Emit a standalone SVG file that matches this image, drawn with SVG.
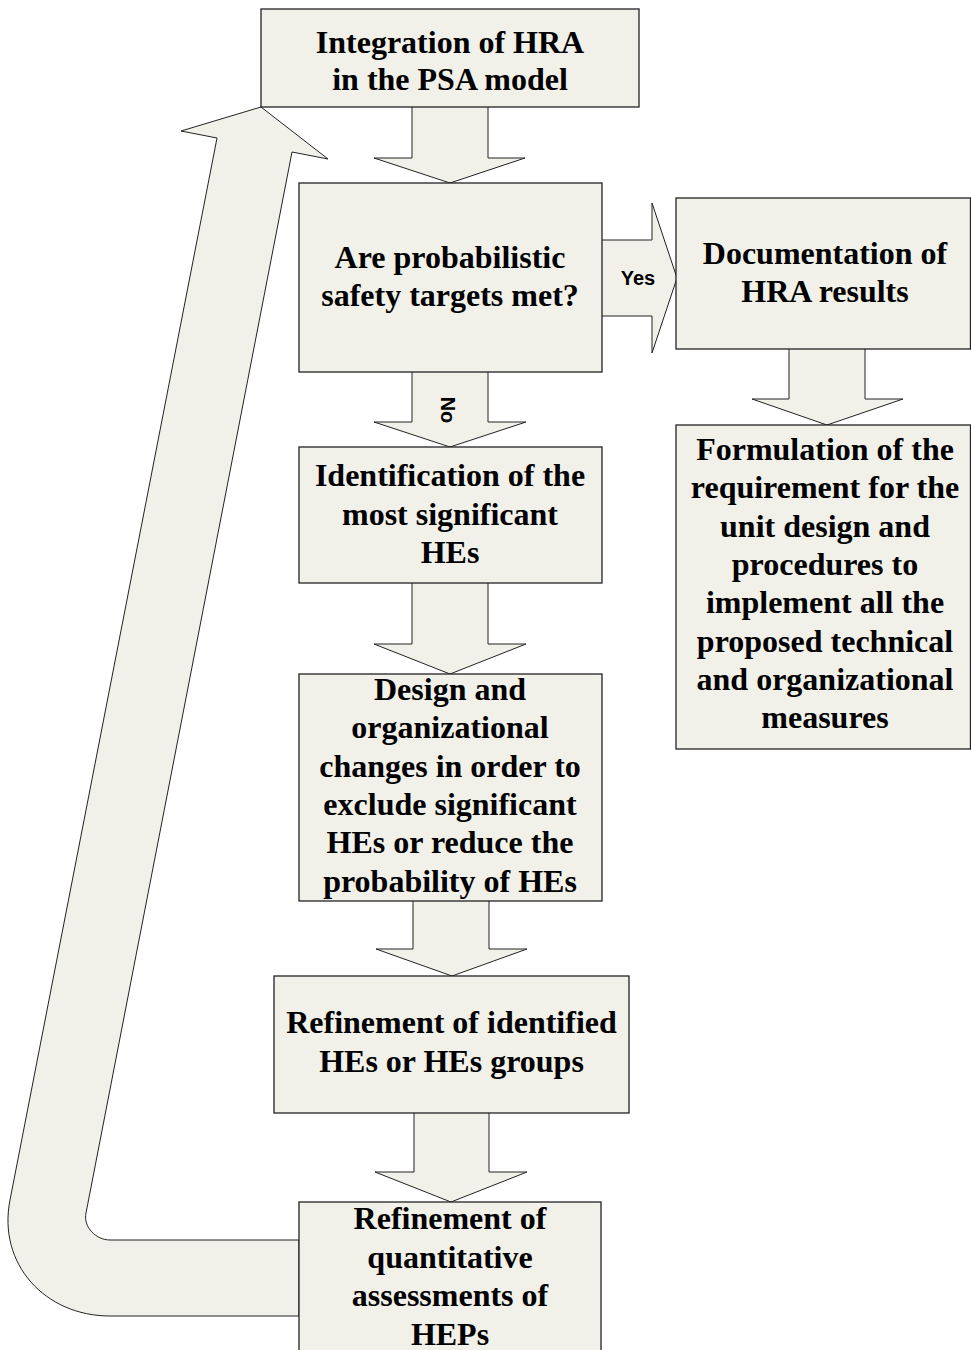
<svg xmlns="http://www.w3.org/2000/svg" width="971" height="1350" viewBox="0 0 971 1350">
<style>
.box{fill:#f1f1ea;stroke:#222;stroke-width:1.3}
.arr{fill:#f1f1ea;stroke:#222;stroke-width:1}
.t{font-family:"Liberation Serif","Times New Roman",serif;font-weight:bold;font-size:32px;fill:#000;text-anchor:middle}
.lbl{font-family:"Liberation Sans",Arial,sans-serif;font-weight:bold;font-size:20px;fill:#000;text-anchor:middle}
</style>
<rect width="971" height="1350" fill="#fff"/>
<g id="connectors">
<path class="arr" d="M299,1240 L110,1240 C96,1240 83,1227 86,1213 L292,152 L328,159 L261,107 L181,131 L217,138 L10,1200 C-2.6,1264 45,1316 110,1316 L299,1316 Z"/>
<path class="arr" d="M412,107 L412,158 L374,158 L450,183 L525,158 L488,158 L488,107"/>
<path class="arr" d="M602,240 L652,240 L652,203 L677,278 L652,353 L652,316 L602,316"/>
<path class="arr" d="M412,372 L412,422 L374,422 L450,447 L526,422 L488,422 L488,372"/>
<path class="arr" d="M412,583 L412,644 L374,644 L450,674 L526,644 L488,644 L488,583"/>
<path class="arr" d="M413,901 L413,949 L376,949 L452,976 L527,949 L489,949 L489,901"/>
<path class="arr" d="M414,1113 L414,1172 L375,1172 L451,1202 L527,1172 L489,1172 L489,1113"/>
<path class="arr" d="M789,349 L789,399 L752,399 L827,425 L903,399 L865,399 L865,349"/>
<text class="lbl" x="638" y="285">Yes</text>
<text class="lbl" transform="translate(447.5,410) rotate(90)" x="0" y="7">No</text>
</g>
<g id="n1">
<rect class="box" x="261" y="9" width="378" height="98"/>
<text class="t"><tspan x="450" y="53">Integration of HRA</tspan><tspan x="450" y="90">in the PSA model</tspan></text>
</g>
<g id="n2">
<rect class="box" x="299" y="183" width="303" height="189"/>
<text class="t"><tspan x="450" y="268">Are probabilistic</tspan><tspan x="450" y="306">safety targets met?</tspan></text>
</g>
<g id="n3">
<rect class="box" x="299" y="447" width="303" height="136"/>
<text class="t"><tspan x="450" y="486">Identification of the</tspan><tspan x="450" y="525">most significant</tspan><tspan x="450" y="563">HEs</tspan></text>
</g>
<g id="n4">
<rect class="box" x="299" y="674" width="303" height="227"/>
<text class="t"><tspan x="450" y="700">Design and</tspan><tspan x="450" y="738">organizational</tspan><tspan x="450" y="777">changes in order to</tspan><tspan x="450" y="815">exclude significant</tspan><tspan x="450" y="853">HEs or reduce the</tspan><tspan x="450" y="892">probability of HEs</tspan></text>
</g>
<g id="n5">
<rect class="box" x="274" y="976" width="355" height="137"/>
<text class="t"><tspan x="451.5" y="1033">Refinement of identified</tspan><tspan x="451.5" y="1072">HEs or HEs groups</tspan></text>
</g>
<g id="n6">
<rect class="box" x="299" y="1202" width="302" height="160"/>
<text class="t"><tspan x="450" y="1229">Refinement of</tspan><tspan x="450" y="1268">quantitative</tspan><tspan x="450" y="1306">assessments of</tspan><tspan x="450" y="1345">HEPs</tspan></text>
</g>
<g id="n7">
<rect class="box" x="676" y="198" width="294.5" height="151"/>
<text class="t"><tspan x="825" y="264">Documentation of</tspan><tspan x="825" y="302">HRA results</tspan></text>
</g>
<g id="n8">
<rect class="box" x="676" y="425" width="294.5" height="324"/>
<text class="t"><tspan x="825" y="460">Formulation of the</tspan><tspan x="825" y="498">requirement for the</tspan><tspan x="825" y="537">unit design and</tspan><tspan x="825" y="575">procedures to</tspan><tspan x="825" y="613">implement all the</tspan><tspan x="825" y="652">proposed technical</tspan><tspan x="825" y="690">and organizational</tspan><tspan x="825" y="728">measures</tspan></text>
</g>
</svg>
